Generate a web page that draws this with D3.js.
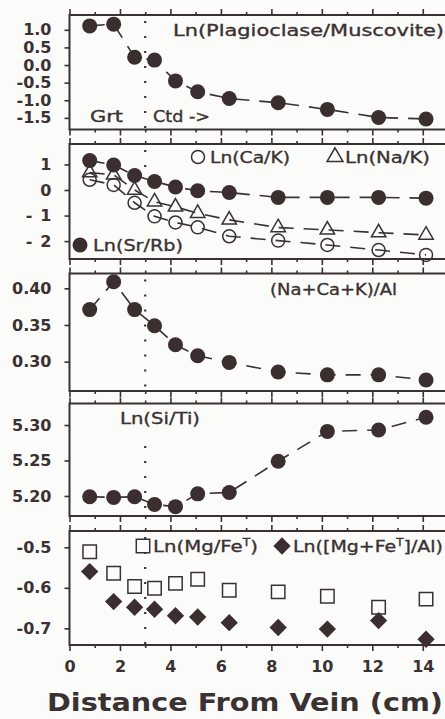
<!DOCTYPE html>
<html>
<head>
<meta charset="utf-8">
<script src="https://cdn.jsdelivr.net/npm/d3@7"></script>
<style>
    body { margin: 0; background: #fbfbf9; }
    svg { display: block; }
    text { fill: #3a3232; font-family: "DejaVu Sans", sans-serif; }
</style>
</head>
<body>
<div id="chart"></div>
<script>
// distance from the vein (cm), shared by every panel
var distance = [0.8, 1.75, 2.58, 3.37, 4.2, 5.08, 6.33, 8.27, 10.22, 12.25, 14.13];

var plagMusc = [1.11, 1.16, 0.22, 0.14, -0.45, -0.76, -0.95, -1.07, -1.26, -1.49, -1.53];
var srRb = [1.15, 0.98, 0.57, 0.33, 0.12, -0.03, -0.1, -0.29, -0.29, -0.29, -0.32];
var naK = [0.68, 0.59, 0.0, -0.46, -0.66, -0.91, -1.17, -1.47, -1.56, -1.67, -1.76];
var caK = [0.4, 0.2, -0.5, -1.03, -1.27, -1.46, -1.81, -1.98, -2.15, -2.35, -2.54];
var naCaKAl = [0.371, 0.409, 0.371, 0.349, 0.323, 0.308, 0.299, 0.286, 0.282, 0.282, 0.275];
var siTi = [5.199, 5.198, 5.199, 5.188, 5.185, 5.203, 5.205, 5.249, 5.291, 5.293, 5.311];
var mgFe = [-0.511, -0.564, -0.597, -0.601, -0.589, -0.579, -0.606, -0.61, -0.621, -0.648, -0.628];
var mgFeAl = [-0.56, -0.634, -0.648, -0.653, -0.669, -0.672, -0.686, -0.698, -0.702, -0.681, -0.727];

var xTicks = [0, 2, 4, 6, 8, 10, 12, 14];
var xMinorTicks = [1, 3, 5, 7, 9, 11, 13];
var plagTicks = [-1.5, -1, -0.5, 0, 0.5, 1];
var ratioTicks = [-2, -1, 0, 1];
var alkTicks = [0.30, 0.35, 0.40];
var siTiTicks = [5.20, 5.25, 5.30];
var mgTicks = [-0.7, -0.6, -0.5];
var garnetEdge = 3; // Grt / Ctd boundary

var ink = '#3a3232',
    dark = '#3b2e2e';

var svg = d3.select('#chart').append('svg')
        .attr('width', 445)
        .attr('height', 719);

var x = d3.scaleLinear().domain([0, 15]).range([69.5, 448]);

var hyphen = function(fmt) {
    return function(d) { return d3.format(fmt)(d).replace('\u2212', '-'); };
};

var panels = [
    {top: 15, bottom: 129.5, domain: [-1.83, 1.42], ticks: plagTicks, fmt: hyphen('.1f'), dots: [15, 129.5]},
    {top: 144, bottom: 259, domain: [-2.7, 1.8], ticks: ratioTicks, fmt: function(d) { return d < 0 ? '-\u2002' + Math.abs(d) : '' + d; }, dots: [144, 170]},
    {top: 273.5, bottom: 391, domain: [0.26, 0.4202], ticks: alkTicks, fmt: d3.format('.2f'), dots: [273.5, 391]},
    {top: 403.5, bottom: 516, domain: [5.1718, 5.3303], ticks: siTiTicks, fmt: d3.format('.2f'), dots: [440, 516]},
    {top: 531, bottom: 645, domain: [-0.7412, -0.4598], ticks: mgTicks, fmt: hyphen('.1f'), dots: [531, 645]}
];

panels.forEach(function(p, i) {
    p.y = d3.scaleLinear().domain(p.domain).range([p.bottom, p.top]);
    var g = svg.append('g').attr('class', 'panel');

    g.append('rect')
        .attr('x', x(0)).attr('y', p.top)
        .attr('width', x(15) - x(0) + 6).attr('height', p.bottom - p.top)
        .attr('fill', 'none').attr('stroke', ink).attr('stroke-width', 2);

    // x ticks, outward on both edges
    [[d3.axisTop, p.top], [d3.axisBottom, p.bottom]].forEach(function(a) {
        var major = a[0](x).tickValues(xTicks).tickSize(6).tickFormat('');
        var minor = a[0](x).tickValues(xMinorTicks).tickSize(3).tickFormat('');
        if (i === panels.length - 1 && a[1] === p.bottom) {
            major.tickFormat(d3.format('d')).tickPadding(10);
        }
        [major, minor].forEach(function(ax) {
            var t = g.append('g').attr('transform', 'translate(0,' + a[1] + ')').call(ax);
            t.select('.domain').remove();
            t.selectAll('line').attr('stroke', ink).attr('stroke-width', 1.6);
            t.selectAll('text').attr('font-size', 16).attr('font-weight', 'bold')
                .attr('fill', ink).attr('font-family', '"DejaVu Sans", sans-serif');
        });
    });

    var yAxis = g.append('g').attr('transform', 'translate(' + x(0) + ',0)')
        .call(d3.axisLeft(p.y).tickValues(p.ticks).tickSize(5).tickPadding(13).tickFormat(p.fmt));
    yAxis.select('.domain').remove();
    yAxis.selectAll('line').attr('stroke', ink).attr('stroke-width', 1.6);
    yAxis.selectAll('text').attr('font-size', 16).attr('font-weight', 'bold')
        .attr('fill', ink).attr('font-family', '"DejaVu Sans", sans-serif');

    g.append('line')
        .attr('x1', x(garnetEdge)).attr('x2', x(garnetEdge))
        .attr('y1', p.dots[0] + 6).attr('y2', p.dots[1])
        .attr('stroke', ink).attr('stroke-width', 2.2)
        .attr('stroke-dasharray', '2,13');
});

function drawLine(panel, values) {
    var line = d3.line()
        .x(function(d, i) { return x(distance[i]); })
        .y(function(d) { return panel.y(d); });
    svg.append('path')
        .datum(values)
        .attr('d', line)
        .attr('fill', 'none')
        .attr('stroke', ink)
        .attr('stroke-width', 1.6)
        .attr('stroke-dasharray', '15,10');
}

function drawPoints(panel, values, kind) {
    var sym = null;
    if (kind === 'triangle') {
        sym = d3.symbol().type(d3.symbolTriangle).size(90);
    } else if (kind === 'square') {
        sym = d3.symbol().type(d3.symbolSquare).size(180);
    } else if (kind === 'diamond') {
        sym = d3.symbol().type(d3.symbolSquare).size(150);
    }
    var open = kind === 'open' || kind === 'triangle' || kind === 'square';
    var sel;
    if (sym) {
        sel = svg.append('g').selectAll('path').data(values).enter().append('path')
            .attr('d', sym)
            .attr('transform', function(d, i) {
                return 'translate(' + x(distance[i]) + ',' + panel.y(d) + ')' + (kind === 'diamond' ? ' rotate(45)' : '');
            });
    } else {
        sel = svg.append('g').selectAll('circle').data(values).enter().append('circle')
            .attr('cx', function(d, i) { return x(distance[i]); })
            .attr('cy', function(d) { return panel.y(d); })
            .attr('r', open ? 6.5 : 7.5);
    }
    sel.attr('fill', open ? 'none' : dark)
        .attr('stroke', open ? ink : 'none')
        .attr('stroke-width', 1.5);
}

function label(txt, x0, x1, y, size, weight) {
    var t = svg.append('text')
        .attr('x', x0).attr('y', y)
        .attr('font-size', size || 16)
        .attr('font-weight', weight || 'normal')
        .attr('textLength', x1 - x0)
        .attr('lengthAdjust', 'spacingAndGlyphs');
    if (!weight) {
        // scanned type looks a little heavier than the book weight
        t.attr('stroke', ink).attr('stroke-width', 0.35);
    }
    txt.forEach(function(part) {
        var s = t.append('tspan').text(part.text);
        if (part.sup) {
            s.attr('font-size', 10).attr('dy', -6);
        } else if (part.down) {
            s.attr('dy', 6);
        }
    });
    return t;
}

function legendMark(kind, cx, cy) {
    if (kind === 'circle' || kind === 'open') {
        svg.append('circle').attr('cx', cx).attr('cy', cy).attr('r', kind === 'open' ? 6.5 : 7.5)
            .attr('fill', kind === 'open' ? 'none' : dark)
            .attr('stroke', kind === 'open' ? ink : 'none').attr('stroke-width', 1.5);
        return;
    }
    var type = kind === 'triangle' ? d3.symbolTriangle : d3.symbolSquare;
    var size = kind === 'triangle' ? 110 : (kind === 'square' ? 180 : 150);
    svg.append('path')
        .attr('d', d3.symbol().type(type).size(size))
        .attr('transform', 'translate(' + cx + ',' + cy + ')' + (kind === 'diamond' ? ' rotate(45)' : ''))
        .attr('fill', kind === 'diamond' ? dark : 'none')
        .attr('stroke', kind === 'diamond' ? 'none' : ink)
        .attr('stroke-width', 1.5);
}

// panel 1
drawLine(panels[0], plagMusc);
drawPoints(panels[0], plagMusc, 'filled');
label([{text: 'Ln(Plagioclase/Muscovite)'}], 173, 444, 36);
label([{text: 'Grt'}], 90, 123, 122);
label([{text: 'Ctd ->'}], 153, 210, 122);

// panel 2
drawLine(panels[1], caK);
drawLine(panels[1], naK);
drawLine(panels[1], srRb);
drawPoints(panels[1], caK, 'open');
drawPoints(panels[1], naK, 'triangle');
drawPoints(panels[1], srRb, 'filled');
legendMark('open', 198, 157);
label([{text: 'Ln(Ca/K)'}], 210, 290, 163);
legendMark('triangle', 335, 157);
label([{text: 'Ln(Na/K)'}], 345, 430, 163);
legendMark('circle', 80, 245);
label([{text: 'Ln(Sr/Rb)'}], 93, 183, 251);

// panel 3
drawLine(panels[2], naCaKAl);
drawPoints(panels[2], naCaKAl, 'filled');
label([{text: '(Na+Ca+K)/Al'}], 270, 397, 295);

// panel 4
drawLine(panels[3], siTi);
drawPoints(panels[3], siTi, 'filled');
label([{text: 'Ln(Si/Ti)'}], 120, 200, 424);

// panel 5, no connecting lines
drawPoints(panels[4], mgFe, 'square');
drawPoints(panels[4], mgFeAl, 'diamond');
legendMark('square', 143, 546);
label([{text: 'Ln(Mg/Fe'}, {text: 'T', sup: true}, {text: ')', down: true}], 153, 258, 552);
legendMark('diamond', 282, 546);
label([{text: 'Ln([Mg+Fe'}, {text: 'T', sup: true}, {text: ']/Al)', down: true}], 293, 443, 552);

label([{text: 'Distance From Vein (cm)'}], 47, 443, 711, 25, 'bold');
</script>
</body>
</html>
